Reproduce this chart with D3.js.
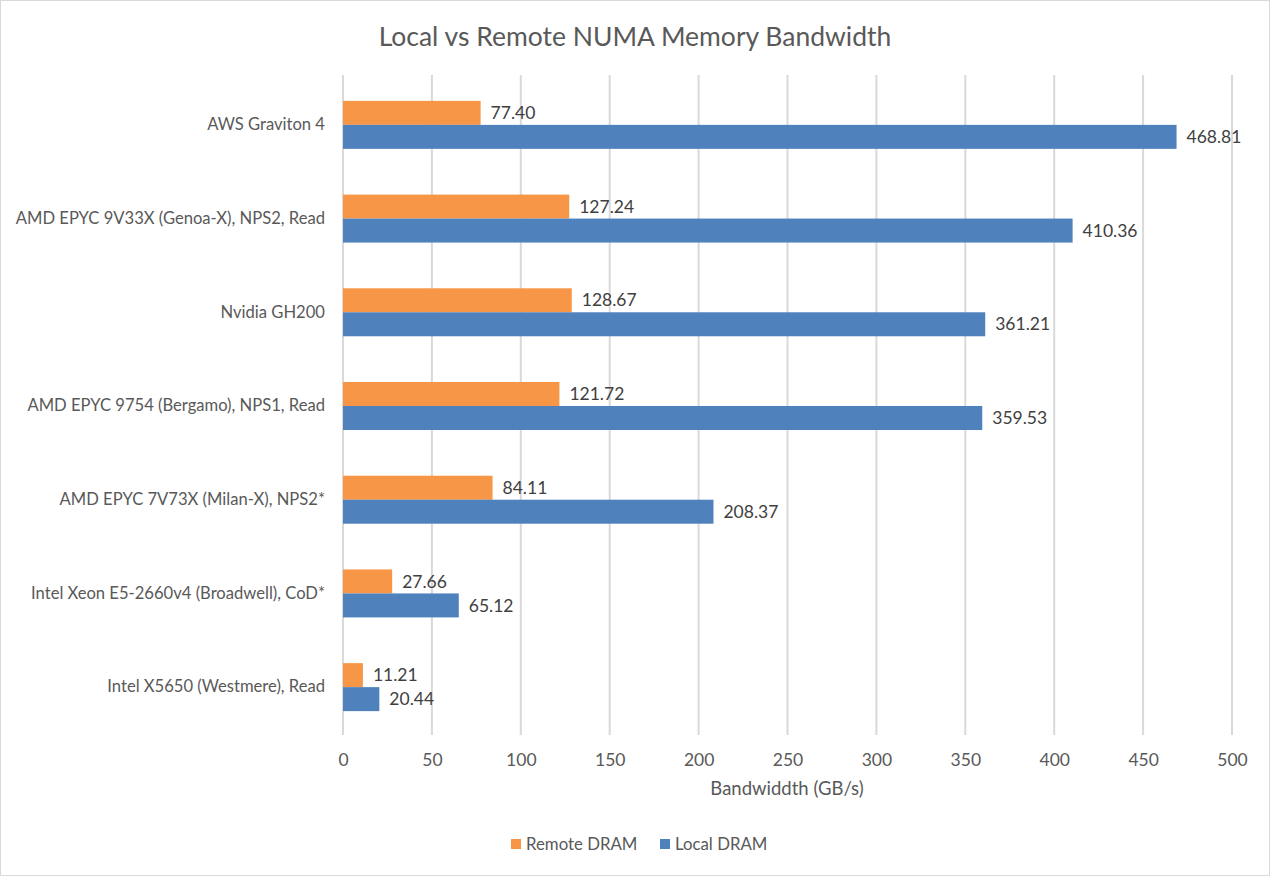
<!DOCTYPE html>
<html><head><meta charset="utf-8">
<script src="https://cdn.jsdelivr.net/npm/d3@7"></script>
<style>body{margin:0;background:#fff;}svg{display:block;font-family:Lato,"Open Sans",sans-serif;}</style>
</head><body>
<svg id="c" width="1270" height="876"></svg>
<script>
const categories = ["AWS Graviton 4","AMD EPYC 9V33X (Genoa-X), NPS2, Read","Nvidia GH200","AMD EPYC 9754 (Bergamo), NPS1, Read","AMD EPYC 7V73X (Milan-X), NPS2*","Intel Xeon E5-2660v4 (Broadwell), CoD*","Intel X5650 (Westmere), Read"];
const seriesNames = ["Remote DRAM","Local DRAM"];
const remote = [77.40,127.24,128.67,121.72,84.11,27.66,11.21];
const local = [468.81,410.36,361.21,359.53,208.37,65.12,20.44];
const ticks = [0,50,100,150,200,250,300,350,400,450,500];
const colors = ["#F79646","#4F81BD"];

const svg = d3.select("#c");
svg.append("rect").attr("x",0.5).attr("y",0.5).attr("width",1269).attr("height",875).attr("fill","#fff").attr("stroke","#d9d9d9");

const x = d3.scaleLinear().domain([0,500]).range([343,1232]);
const y = d3.scaleBand().domain(categories).range([78,734]).paddingInner(0.488).paddingOuter(0.244);
const sub = d3.scaleBand().domain(seriesNames).range([0,y.bandwidth()]);

svg.append("g").selectAll("line").data(ticks).join("line")
  .attr("x1",d=>x(d)).attr("x2",d=>x(d)).attr("y1",75).attr("y2",735)
  .attr("stroke","#d9d9d9").attr("stroke-width",2);

const xa = svg.append("g").attr("transform","translate(0,760)").call(d3.axisBottom(x).tickValues(ticks).tickSize(0).tickPadding(0));
xa.select(".domain").remove();
xa.selectAll("text").attr("font-size",17.5).attr("fill","#595959").attr("font-family","Lato,'Open Sans',sans-serif").attr("dy","0.35em").attr("y",0);

const ya = svg.append("g").attr("transform","translate(325,0)").call(d3.axisLeft(y).tickSize(0).tickPadding(0));
ya.select(".domain").remove();
ya.selectAll("text").attr("font-size",16.6).attr("fill","#595959").attr("font-family","Lato,'Open Sans',sans-serif");

const data = categories.map((c,i)=>({c, vals:[remote[i],local[i]]}));
const g = svg.append("g").selectAll("g").data(data).join("g").attr("transform",d=>`translate(0,${y(d.c)})`);
g.selectAll("rect").data(d=>d.vals.map((v,j)=>({v,s:seriesNames[j],j}))).join("rect")
  .attr("x",x(0)).attr("y",d=>sub(d.s)).attr("width",d=>x(d.v)-x(0)).attr("height",sub.bandwidth())
  .attr("fill",d=>colors[d.j]);
g.selectAll("text").data(d=>d.vals.map((v,j)=>({v,s:seriesNames[j],j}))).join("text")
  .attr("x",d=>x(d.v)+10).attr("y",d=>sub(d.s)+sub.bandwidth()/2).attr("dy","0.35em")
  .attr("font-size",17.5).attr("fill","#404040").text(d=>d.v.toFixed(2));

svg.append("text").attr("x",635).attr("y",37).attr("dy","0.35em").attr("text-anchor","middle")
  .attr("font-size",26.5).attr("fill","#595959").text("Local vs Remote NUMA Memory Bandwidth");
svg.append("text").attr("x",787).attr("y",789).attr("dy","0.35em").attr("text-anchor","middle")
  .attr("font-size",18.5).attr("fill","#595959").text("Bandwiddth (GB/s)");

const legX = [511,660];
const lg = svg.append("g").selectAll("g").data(seriesNames).join("g").attr("transform",(d,i)=>`translate(${legX[i]},844)`);
lg.append("rect").attr("x",0).attr("y",-5).attr("width",10).attr("height",10).attr("fill",(d,i)=>colors[i]);
lg.append("text").attr("x",15).attr("y",0).attr("dy","0.35em").attr("font-size",16.8).attr("fill","#595959").text(d=>d);
</script>
</body></html>
